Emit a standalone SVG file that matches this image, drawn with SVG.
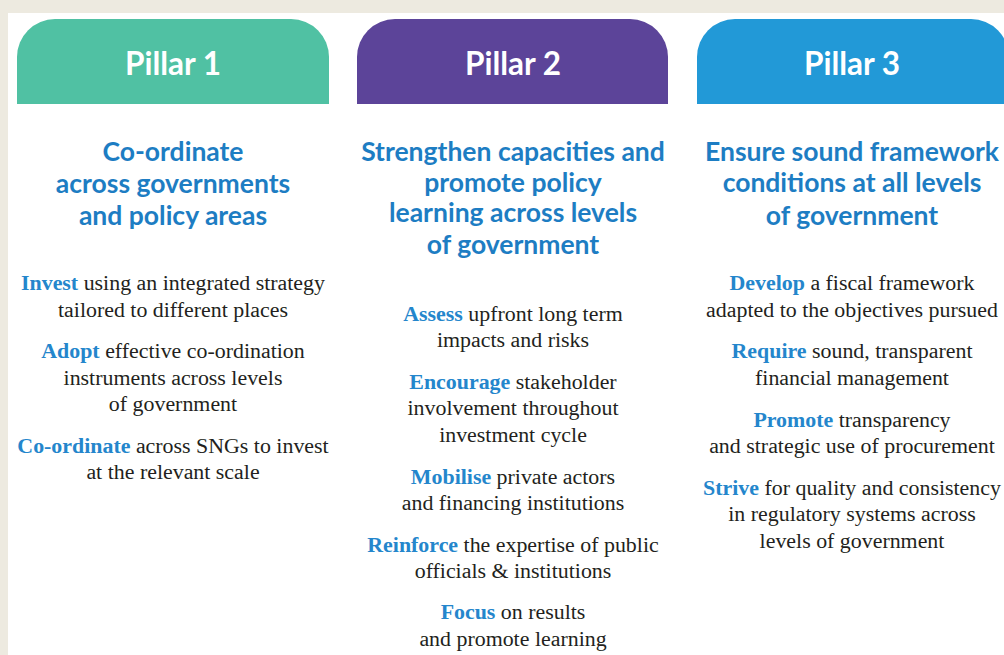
<svg xmlns="http://www.w3.org/2000/svg" width="1004" height="655" viewBox="0 0 1004 655">
<style>
.tab-title{font-family:Lato,"Open Sans",sans-serif;font-weight:700;font-size:31.5px;fill:#ffffff;text-anchor:middle}
.head{font-family:Lato,"Open Sans",sans-serif;font-weight:700;font-size:26.5px;fill:#1d7dc3;text-anchor:middle}
.body{font-family:"Liberation Serif","DejaVu Serif",serif;font-size:21.9px;fill:#231f20;text-anchor:middle}
.lead{font-weight:700;fill:#2486cc}
</style>
<rect x="0" y="0" width="1004" height="655" fill="#edeae0"/>
<rect x="8" y="13" width="996" height="642" fill="#ffffff"/>
<g id="pillar1">
<path d="M17,104 V57 A38,38 0 0 1 55,19 H291 A38,38 0 0 1 329,57 V104 Z" fill="#50c1a3"/>
<text class="tab-title" x="173" y="75">Pillar 1</text>
<text class="head" x="173" y="161">Co-ordinate</text>
<text class="head" x="173" y="193">across governments</text>
<text class="head" x="173" y="225">and policy areas</text>
<text class="body" x="173" y="290"><tspan class="lead">Invest</tspan> using an integrated strategy</text>
<text class="body" x="173" y="317">tailored to different places</text>
<text class="body" x="173" y="358"><tspan class="lead">Adopt</tspan> effective co-ordination</text>
<text class="body" x="173" y="385">instruments across levels</text>
<text class="body" x="173" y="411">of government</text>
<text class="body" x="173" y="453"><tspan class="lead">Co-ordinate</tspan> across SNGs to invest</text>
<text class="body" x="173" y="479">at the relevant scale</text>
</g>
<g id="pillar2">
<path d="M357,104 V57 A38,38 0 0 1 395,19 H630 A38,38 0 0 1 668,57 V104 Z" fill="#5c4499"/>
<text class="tab-title" x="513" y="75">Pillar 2</text>
<text class="head" x="513" y="161">Strengthen capacities and</text>
<text class="head" x="513" y="192">promote policy</text>
<text class="head" x="513" y="222">learning across levels</text>
<text class="head" x="513" y="254">of government</text>
<text class="body" x="513" y="321"><tspan class="lead">Assess</tspan> upfront long term</text>
<text class="body" x="513" y="347">impacts and risks</text>
<text class="body" x="513" y="389"><tspan class="lead">Encourage</tspan> stakeholder</text>
<text class="body" x="513" y="415">involvement throughout</text>
<text class="body" x="513" y="442">investment cycle</text>
<text class="body" x="513" y="484"><tspan class="lead">Mobilise</tspan> private actors</text>
<text class="body" x="513" y="510">and financing institutions</text>
<text class="body" x="513" y="552"><tspan class="lead">Reinforce</tspan> the expertise of public</text>
<text class="body" x="513" y="578">officials &amp; institutions</text>
<text class="body" x="513" y="619"><tspan class="lead">Focus</tspan> on results</text>
<text class="body" x="513" y="646">and promote learning</text>
</g>
<g id="pillar3">
<path d="M697,104 V57 A38,38 0 0 1 735,19 H971 A38,38 0 0 1 1009,57 V104 Z" fill="#2299d7"/>
<text class="tab-title" x="852" y="75">Pillar 3</text>
<text class="head" x="852" y="161">Ensure sound framework</text>
<text class="head" x="852" y="192">conditions at all levels</text>
<text class="head" x="852" y="225">of government</text>
<text class="body" x="852" y="290"><tspan class="lead">Develop</tspan> a fiscal framework</text>
<text class="body" x="852" y="317">adapted to the objectives pursued</text>
<text class="body" x="852" y="358"><tspan class="lead">Require</tspan> sound, transparent</text>
<text class="body" x="852" y="385">financial management</text>
<text class="body" x="852" y="427"><tspan class="lead">Promote</tspan> transparency</text>
<text class="body" x="852" y="453">and strategic use of procurement</text>
<text class="body" x="852" y="495"><tspan class="lead">Strive</tspan> for quality and consistency</text>
<text class="body" x="852" y="521">in regulatory systems across</text>
<text class="body" x="852" y="548">levels of government</text>
</g>
</svg>
